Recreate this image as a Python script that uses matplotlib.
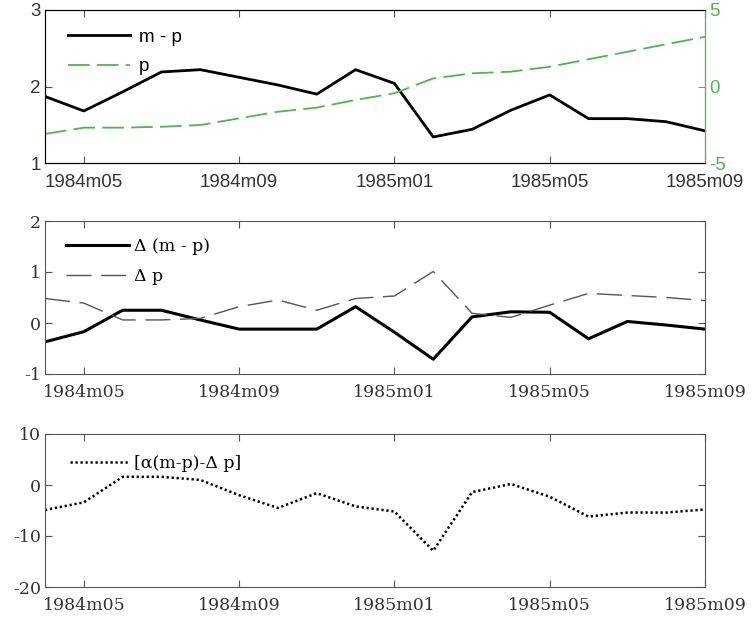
import numpy as np
import matplotlib
matplotlib.use("Agg")
import matplotlib.pyplot as plt

plt.rcParams["axes.unicode_minus"] = False

# monthly data 1984m04 .. 1985m09
months = ["1984m04", "1984m05", "1984m06", "1984m07", "1984m08", "1984m09",
          "1984m10", "1984m11", "1984m12", "1985m01", "1985m02", "1985m03",
          "1985m04", "1985m05", "1985m06", "1985m07", "1985m08", "1985m09"]
tick_labels = ["1984m05", "1984m09", "1985m01", "1985m05", "1985m09"]

m_p = [1.87, 1.68, 1.93, 2.19, 2.22, 2.12, 2.02, 1.90, 2.22, 2.04,
       1.34, 1.44, 1.69, 1.89, 1.58, 1.58, 1.54, 1.42]
p = [-3.1, -2.69, -2.69, -2.63, -2.52, -2.08, -1.65, -1.38, -0.88, -0.44,
     0.53, 0.86, 0.97, 1.29, 1.78, 2.27, 2.76, 3.25]

d_m_p = [-0.37, -0.17, 0.25, 0.25, 0.06, -0.12, -0.12, -0.12, 0.32, -0.18,
         -0.71, 0.12, 0.22, 0.21, -0.31, 0.03, -0.04, -0.12]
d_p = [0.48, 0.39, 0.06, 0.06, 0.09, 0.32, 0.45, 0.25, 0.48, 0.53,
       1.01, 0.19, 0.11, 0.35, 0.58, 0.54, 0.50, 0.44]

gap = [-4.9, -3.4, 1.6, 1.6, 1.0, -2.0, -4.5, -1.6, -4.2, -5.2,
       -12.9, -1.4, 0.2, -2.3, -6.2, -5.4, -5.4, -4.8]

x = np.arange(len(months))
xt = [months.index(t) for t in tick_labels]
green = "#4cb84c"
spine_c = "#555555"

fig = plt.figure(figsize=(7.52, 6.19), dpi=100)
W, H = 752, 619
def box(l, t, r, b):
    return [l / W, 1 - b / H, (r - l) / W, (b - t) / H]

def style(ax, family, fs, xpad):
    ax.set_xlim(0, len(months) - 1)
    ax.set_xticks(xt)
    ax.set_xticklabels(tick_labels, family=family, fontsize=fs, color="#333333")
    ax.tick_params(direction="in", length=5, top=True, color=spine_c, pad=3)
    ax.tick_params(axis="x", pad=xpad)
    for s in ax.spines.values():
        s.set_color(spine_c)
    for lab in ax.get_yticklabels():
        lab.set_family(family)
        lab.set_fontsize(fs)
        lab.set_color("#333333")

# top panel
ax1 = fig.add_axes(box(45, 10, 705, 163))
l1, = ax1.plot(x, m_p, color="black", lw=2.0, label="m - p")
ax1.set_ylim(1, 3)
ax1.set_yticks([1, 2, 3])
style(ax1, "Liberation Sans", 13.5, 8)
ax1.tick_params(axis="y", right=False)
ax1b = ax1.twinx()
l2, = ax1b.plot(x, p, color=green, lw=1.3, dashes=(12, 4), label="p")
ax1b.set_ylim(-5, 5)
ax1b.set_yticks([-5, 0, 5])
ax1b.tick_params(axis="y", direction="in", length=5, color=green, labelcolor=green, labelsize=13.5, pad=3)
ax1b.spines["right"].set_color(green)
for lab in ax1b.get_yticklabels():
    lab.set_family("Liberation Sans")
ax1.legend(handles=[l1, l2], loc="upper left", frameon=False,
           handlelength=3.3, handletextpad=0.5, borderaxespad=0.6, labelspacing=0.65,
           bbox_to_anchor=(0.006, 1.0),
           prop={"family": "Liberation Sans", "size": 13.5})

# middle panel
ax2 = fig.add_axes(box(45, 221, 705, 374))
ax2.plot(x, d_m_p, color="black", lw=2.2, label="Δ (m - p)")
ax2.plot(x, d_p, color="#555555", lw=1.0, dashes=(18, 7), label="Δ p")
ax2.set_ylim(-1, 2)
ax2.set_yticks([-1, 0, 1, 2])
style(ax2, "DejaVu Serif", 12.5, 7)
ax2.tick_params(axis="y", right=True)
ax2.legend(loc="upper left", frameon=False, handlelength=3.6, handletextpad=0.3,
           borderaxespad=0.6, labelspacing=0.75, bbox_to_anchor=(0.006, 1.0),
           prop={"family": "DejaVu Serif", "size": 12.5})

# bottom panel
ax3 = fig.add_axes(box(45, 434, 705, 587))
ax3.plot(x, gap, color="black", lw=1.8, ls=(0, (0.9, 1.1)), label="[α(m-p)-Δ p]")
ax3.set_ylim(-20, 10)
ax3.set_yticks([-20, -10, 0, 10])
style(ax3, "DejaVu Serif", 12.5, 7)
ax3.tick_params(axis="y", right=True)
ax3.legend(loc="upper left", frameon=False, handlelength=3.4, handletextpad=0.3,
           borderaxespad=0.8, bbox_to_anchor=(0.006, 1.0),
           prop={"family": "DejaVu Serif", "size": 12.5})

fig.savefig("out.png", dpi=100)
